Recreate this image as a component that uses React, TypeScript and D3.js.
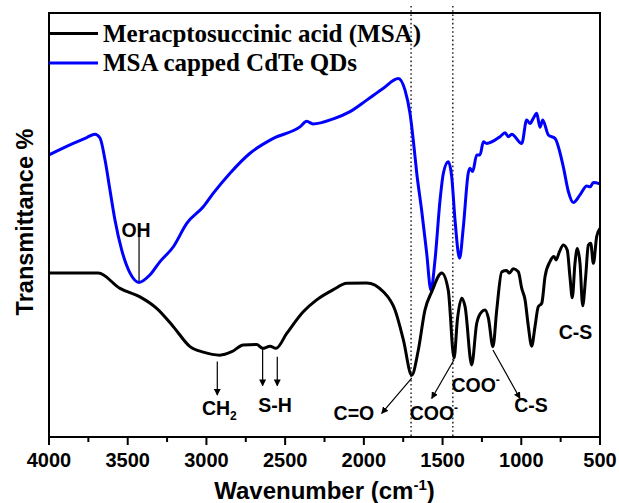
import React from "react";
import * as d3 from "d3";

// Meracptosuccinic acid (MSA) – black
const msaWavenumber = [4000, 3687, 3549, 3422, 3316, 3210, 3104, 3020, 2914, 2839, 2766, 2681, 2643, 2596, 2558, 2490, 2385, 2300, 2194, 2109, 1982, 1876, 1802, 1749, 1696, 1654, 1612, 1569, 1505, 1464, 1427, 1406, 1378, 1357, 1315, 1283, 1251, 1230, 1209, 1180, 1156, 1124, 1093, 1076, 1051, 1019, 997, 976, 955, 934, 913, 892, 870, 849, 818, 792, 779, 758, 733, 708, 691, 676, 659, 644, 627, 610, 591, 574, 559, 542, 521, 500];
const msaTransmittance = [38.8, 38.8, 35.2, 33.2, 30.5, 26.2, 21.5, 20.2, 19.5, 20.3, 21.9, 22.0, 21.1, 21.6, 21.1, 24.6, 29.7, 32.5, 34.9, 36.4, 36.5, 34.4, 30.1, 23.1, 14.8, 20.7, 30.1, 34.4, 38.8, 34.8, 18.8, 27.8, 32.9, 30.9, 17.2, 27.0, 29.7, 30.1, 28.2, 21.5, 30.1, 39.1, 39.4, 38.8, 39.8, 39.1, 35.2, 32.5, 26.2, 21.6, 26.2, 30.9, 31.7, 38.0, 41.5, 42.7, 41.9, 43.8, 45.4, 44.2, 38.0, 33.0, 41.1, 44.6, 41.1, 31.1, 38.0, 45.4, 45.8, 41.1, 47.4, 49.3];

// MSA capped CdTe QDs – blue
const qdWavenumber = [4000, 3846, 3760, 3708, 3676, 3644, 3613, 3581, 3538, 3485, 3428, 3358, 3295, 3210, 3125, 3020, 2956, 2850, 2723, 2575, 2406, 2363, 2323, 2194, 2088, 1982, 1876, 1781, 1739, 1707, 1686, 1664, 1633, 1601, 1574, 1548, 1516, 1495, 1464, 1442, 1421, 1392, 1368, 1337, 1326, 1309, 1283, 1262, 1241, 1220, 1135, 1103, 1082, 1061, 997, 966, 945, 924, 902, 881, 864, 828, 786, 733, 701, 670, 627, 584, 563, 542, 500];
const qdTransmittance = [66.6, 69.3, 70.7, 71.5, 70.6, 65.4, 58.4, 51.3, 44.2, 38.8, 36.6, 38.4, 41.5, 45.0, 50.5, 54.4, 57.6, 62.3, 67.0, 70.5, 73.2, 74.5, 73.9, 75.1, 76.8, 79.5, 82.3, 84.6, 81.9, 76.4, 70.1, 62.3, 53.6, 43.5, 34.8, 41.9, 56.0, 62.3, 65.0, 61.5, 51.3, 42.3, 49.7, 62.3, 63.5, 62.7, 66.6, 66.6, 69.7, 69.3, 70.9, 71.8, 70.9, 71.5, 69.3, 74.8, 74.0, 75.2, 76.4, 73.1, 74.8, 71.3, 70.5, 63.8, 58.0, 55.4, 57.2, 59.3, 59.1, 60.1, 59.8];

const seriesNames = ["Meracptosuccinic acid (MSA)", "MSA capped CdTe QDs"];
const seriesColors = ["#000000", "#0000ff"];
const xTickValues = d3.range(500, 4001, 250);
const markerWavenumbers = [1700, 1435];

const W = 619;
const H = 503;
const M = { left: 49, right: 600, top: 13, bottom: 437 };

export default function App() {
  const x = d3.scaleLinear().domain([4000, 500]).range([M.left, M.right]);
  const y = d3.scaleLinear().domain([0, 100]).range([438, 13]);

  const line = d3
    .line<[number, number]>()
    .x((d) => x(d[0]))
    .y((d) => y(d[1]))
    .curve(d3.curveMonotoneX);

  const msa: [number, number][] = msaWavenumber.map((w, i) => [w, msaTransmittance[i]]);
  const qd: [number, number][] = qdWavenumber.map((w, i) => [w, qdTransmittance[i]]);

  const sans = "'Liberation Sans', Arial, sans-serif";
  const serif = "'Liberation Serif', 'Times New Roman', serif";
  const annoStyle: React.CSSProperties = { fontFamily: sans, fontSize: 19.5, fontWeight: 700 };

  const arrow = (w1: number, t1: number, w2: number, t2: number, key: string) => (
    <line
      key={key}
      x1={x(w1)}
      y1={y(t1)}
      x2={x(w2)}
      y2={y(t2)}
      stroke="#000"
      strokeWidth={1.2}
      markerEnd="url(#arrowHead)"
    />
  );

  return (
    <svg
      width={W}
      height={H}
      style={{ position: "absolute", left: 0, top: 0, background: "#fff" }}
    >
      <defs>
        <marker id="arrowHead" viewBox="0 0 10 10" refX="9" refY="5" markerWidth="7" markerHeight="7" markerUnits="userSpaceOnUse" orient="auto">
          <path d="M0,0 L10,5 L0,10 Z" fill="#000" />
        </marker>
      </defs>
      <rect width={W} height={H} fill="#fff" />

      {/* dotted marker lines */}
      {markerWavenumbers.map((w) => (
        <line key={w} x1={x(w)} x2={x(w)} y1={6} y2={M.bottom} stroke="#333" strokeWidth={1.6} strokeDasharray="1.6 2.6" />
      ))}

      {/* curves */}
      <path d={line(qd) || ""} fill="none" stroke={seriesColors[1]} strokeWidth={3} strokeLinejoin="round" />
      <path d={line(msa) || ""} fill="none" stroke={seriesColors[0]} strokeWidth={3} strokeLinejoin="round" />

      {/* frame */}
      <rect x={M.left} y={M.top} width={M.right - M.left} height={M.bottom - M.top} fill="none" stroke="#000" strokeWidth={2} />

      {/* x ticks */}
      {xTickValues.map((v) => {
        const major = v % 500 === 0;
        return (
          <g key={v}>
            <line x1={x(v)} x2={x(v)} y1={M.bottom} y2={M.bottom + (major ? 8 : 5)} stroke="#000" strokeWidth={2} />
            {major && (
              <text x={x(v)} y={467} textAnchor="middle" style={{ fontFamily: sans, fontSize: 20, fontWeight: 700 }}>
                {v}
              </text>
            )}
          </g>
        );
      })}

      {/* axis titles */}
      <text x={(M.left + M.right) / 2} y={499} textAnchor="middle" style={{ fontFamily: sans, fontSize: 24, fontWeight: 700 }}>
        Wavenumber (cm
        <tspan dy={-9} fontSize={15}>-1</tspan>
        <tspan dy={9}>)</tspan>
      </text>
      <text transform={`translate(33,222) rotate(-90)`} textAnchor="middle" style={{ fontFamily: sans, fontSize: 23.5, fontWeight: 700 }}>
        Transmittance %
      </text>

      {/* legend */}
      {seriesNames.map((n, i) => (
        <g key={n}>
          <line x1={M.left} x2={98} y1={33.5 + i * 29.5} y2={33.5 + i * 29.5} stroke={seriesColors[i]} strokeWidth={3} />
          <text x={103} y={41.5 + i * 29.5} style={{ fontFamily: serif, fontSize: 25, fontWeight: 700 }}>
            {n}
          </text>
        </g>
      ))}

      {/* annotations */}
      <line x1={x(3428)} x2={x(3428)} y1={y(47.8)} y2={y(36.9)} stroke="#000" strokeWidth={1.2} />
      <text x={x(3447)} y={y(47.3)} textAnchor="middle" style={annoStyle}>OH</text>

      {arrow(2931, 18.0, 2931, 10.1, "ch2")}
      <text x={x(2918)} y={y(5.4)} textAnchor="middle" style={annoStyle}>
        CH<tspan dy={5} fontSize={12}>2</tspan>
      </text>

      {arrow(2643, 21.2, 2643, 12.3, "sh1")}
      {arrow(2550, 19.1, 2550, 12.3, "sh2")}
      <text x={x(2564)} y={y(6.2)} textAnchor="middle" style={annoStyle}>S-H</text>

      {arrow(1696, 14.1, 1887, 5.8, "co")}
      <text x={x(2063)} y={y(4.2)} textAnchor="middle" style={annoStyle}>C=O</text>

      {arrow(1427, 18.4, 1569, 9.3, "coo1")}
      <text x={x(1555)} y={y(4.2)} textAnchor="middle" style={annoStyle}>
        COO<tspan dy={-8} fontSize={12}>-</tspan>
      </text>

      <text x={x(1290)} y={y(10.9)} textAnchor="middle" style={annoStyle}>
        COO<tspan dy={-8} fontSize={12}>-</tspan>
      </text>

      {arrow(1180, 20.7, 1008, 9.3, "cs")}
      <text x={x(938)} y={y(6.2)} textAnchor="middle" style={annoStyle}>C-S</text>

      <text x={x(656)} y={y(23.2)} textAnchor="middle" style={annoStyle}>C-S</text>
    </svg>
  );
}
